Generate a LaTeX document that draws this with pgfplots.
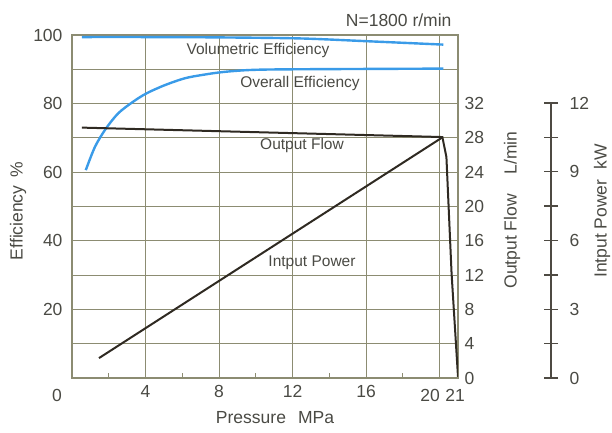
\documentclass[border=0pt]{standalone}
\usepackage{fontspec}
\setmainfont{Liberation Sans}
\usepackage{pgfplots}
\pgfplotsset{compat=1.18}

\definecolor{effblue}{HTML}{3A9BE8}
\definecolor{curvedark}{HTML}{2F2A22}
\definecolor{gridcol}{HTML}{8C8C72}
\definecolor{txt}{HTML}{4A4A44}

\newcommand{\lblfont}{\fontsize{17.5}{20}\selectfont}
\newcommand{\curvefont}{\fontsize{15.5}{18}\selectfont}

% curves
\pgfplotstableread{
x y
0.54 99.4
4 99.4
8 99.3
12.4 99.0
16 98.2
20.2 97.2
}\volumetric
\pgfplotstableread{
x y
0.75 60.6
1.25 67.4
1.83 72.6
2.52 77.2
3.34 80.6
4.06 83.0
5.06 85.4
6.15 87.4
7.14 88.4
8.2 89.2
9.7 89.8
12 90.0
20.2 90.2
}\overall
\pgfplotstableread{
x y
0.54 29.2
20.15 28.1
20.37 25.75
20.65 12.2
21 0.15
}\flow
\pgfplotstableread{
x y
1.47 0.87
20.15 10.5
}\power

\begin{document}
\begin{tikzpicture}[font=\lblfont, text=txt]
\useasboundingbox (-72pt,-54pt) rectangle (540pt,378pt);

% efficiency axis with the grid
\begin{axis}[
    at={(0pt,0pt)}, anchor=south west,
    scale only axis, width=386pt, height=343pt,
    xmin=0, xmax=21, ymin=0, ymax=100,
    xtick={4,8,12,16,20}, xticklabels={4,8,12,16,},
    minor xtick={2,6,10,14,18},
    ytick={10,20,...,100}, yticklabels={,20,,40,,60,,80,,100},
    xmajorgrids, ymajorgrids,
    major grid style={gridcol, line width=1.1pt},
    axis line style={gridcol, line width=1.8pt},
    major tick length=0pt, minor tick length=5pt,
    minor tick style={gridcol, line width=1pt},
    tick align=inside, xtick pos=bottom, ytick pos=left,
    ticklabel style={font=\lblfont, text=txt},
    xticklabel style={yshift=-4pt},
    yticklabel style={xshift=-6pt},
]
\addplot[effblue, line width=2.4pt, smooth] table {\volumetric};
\addplot[effblue, line width=2.4pt, smooth] table {\overall};
\end{axis}

% output flow, L/min
\begin{axis}[
    at={(0pt,0pt)}, anchor=south west,
    scale only axis, width=386pt, height=343pt,
    xmin=0, xmax=21, ymin=0, ymax=40,
    hide x axis, axis y line*=right,
    y axis line style={draw=none},
    ytick={0,4,...,32}, major tick length=0pt,
    /pgf/number format/assume math mode=true,
    ticklabel style={font=\lblfont, text=txt},
    yticklabel style={xshift=3pt},
]
\addplot[curvedark, line width=2pt] table {\flow};
\end{axis}

% input power, kW
\begin{axis}[
    at={(0pt,0pt)}, anchor=south west,
    scale only axis, width=479pt, height=275pt,
    xmin=0, xmax=26.06, ymin=0, ymax=12,
    hide x axis, axis y line*=right,
    y axis line style={-, draw=curvedark!85, line width=1.6pt},
    ytick={0,3,...,12}, minor ytick={1.5,4.5,7.5,10.5},
    tick align=center, major tick length=14pt, minor tick length=14pt,
    every tick/.style={curvedark!85, line width=1.3pt},
    /pgf/number format/assume math mode=true,
    ticklabel style={font=\lblfont, text=txt},
    yticklabel style={xshift=8pt},
]
\addplot[curvedark, line width=2pt] table {\power};
\end{axis}

\node at (-15pt,-17pt) {0};
\node at (358pt,-17pt) {20};
\node at (383pt,-17pt) {21};
\node at (203pt,-40pt) {Pressure\hspace{12pt}MPa};
\node[rotate=90] at (-54pt,167pt) {Efficiency\hspace{8pt}\%};
\node[rotate=90] at (440pt,168pt) {Output Flow\hspace{20pt}L/min};
\node[rotate=90] at (530pt,167pt) {Intput Power\hspace{10pt}kW};
\node[anchor=east] at (383pt,358pt) {N=1800 r/min};

\node[font=\curvefont] at (186pt,328pt) {Volumetric Efficiency};
\node[font=\curvefont] at (228pt,295pt) {Overall Efficiency};
\node[font=\curvefont] at (230pt,233pt) {Output Flow};
\node[font=\curvefont] at (240pt,115pt) {Intput Power};
\end{tikzpicture}
\end{document}
